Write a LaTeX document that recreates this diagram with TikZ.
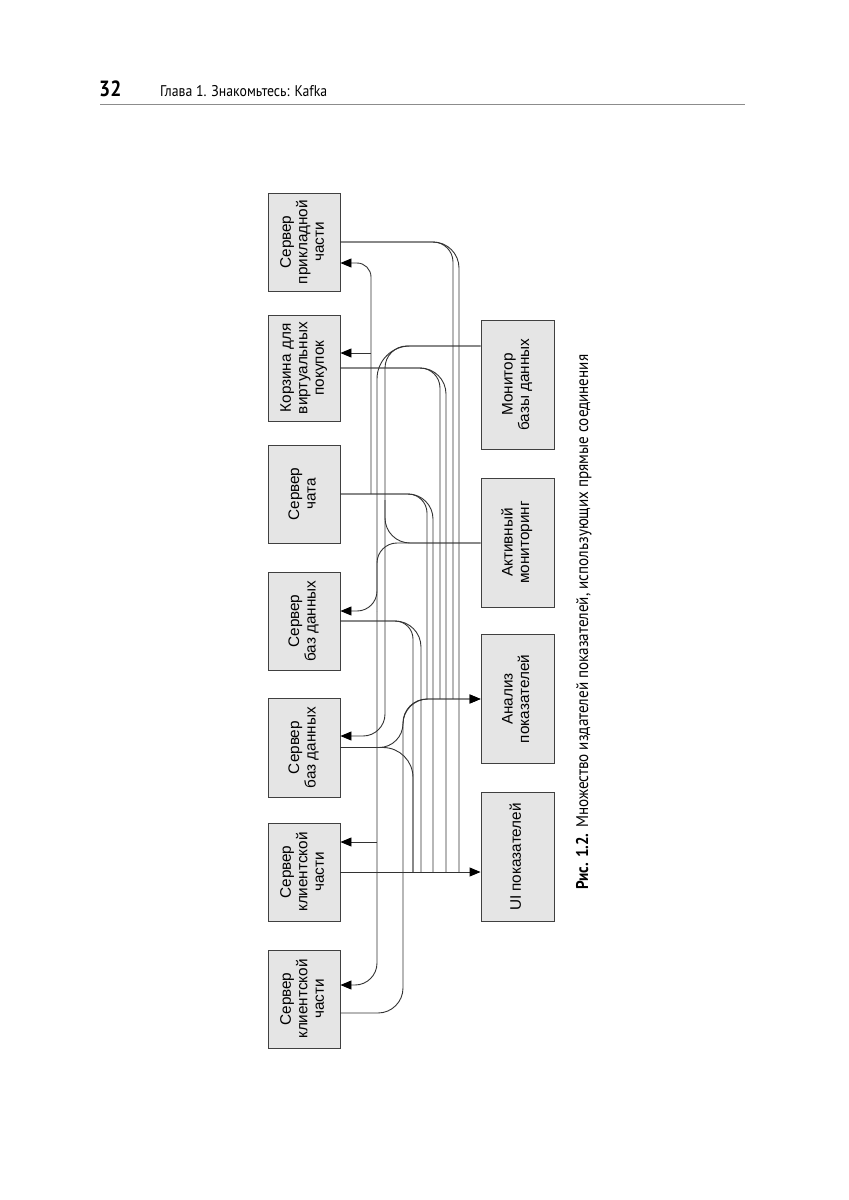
\documentclass[tikz,border=0pt]{standalone}
\usepackage{fontspec}
\setmainfont{Liberation Sans}
\newfontfamily\capfont[FakeStretch=0.89]{PT Sans}
\usetikzlibrary{arrows.meta}
\tikzset{
  box/.style={draw=black!75, fill=black!10, line width=0.9pt, minimum width=72pt, inner sep=0pt, font=\fontsize{15.3}{16.5}\selectfont},
  rbox/.style={box, minimum width=73pt, minimum height=129pt},
  wire/.style={draw=black!80, line width=0.9pt},
  arr/.style={wire, -{Triangle[length=11pt,width=9pt,color=black]}},
}
\newcommand{\bt}[1]{\rotatebox{90}{\begin{tabular}{@{}c@{}}#1\end{tabular}}}
\begin{document}
\begin{tikzpicture}[x=1pt,y=-1pt]
\fill[white] (0,0) rectangle (849,1200);
\useasboundingbox (0,0) rectangle (849,1200);

% header
\node[font=\capfont\bfseries\fontsize{22}{24}\selectfont, anchor=base west, inner sep=0pt] (pg) at (99,96) {32};
\node[font=\capfont\fontsize{15.5}{18}\selectfont, anchor=base west, inner sep=0pt] (hd) at (160,96) {Глава 1. Знакомьтесь: Kafka};
\draw[black!45, line width=1.4pt] (100,104.5) -- (745,104.5);

% left boxes
\node[box, minimum height=98pt]  (b1) at (304,242)   {\bt{Сервер\\прикладной\\части}};
\node[box, minimum height=106pt] (b2) at (304,368)   {\bt{Корзина для\\виртуальных\\покупок}};
\node[box, minimum height=98pt]  (b3) at (304,494)   {\bt{Сервер\\чата}};
\node[box, minimum height=98pt]  (b4) at (304,621)   {\bt{Сервер\\баз данных}};
\node[box, minimum height=99pt]  (b5) at (304,747.5) {\bt{Сервер\\баз данных}};
\node[box, minimum height=98pt]  (b6) at (304,872)   {\bt{Сервер\\клиентской\\части}};
\node[box, minimum height=98pt]  (b7) at (304,999)   {\bt{Сервер\\клиентской\\части}};

% right boxes
\node[rbox] (mon) at (517.5,384.5) {\bt{Монитор\\базы данных}};
\node[rbox] (am)  at (517.5,542.5) {\bt{Активный\\мониторинг}};
\node[rbox] (an)  at (517.5,699)   {\bt{Анализ\\показателей}};
\node[rbox] (ui)  at (517.5,857)   {\bt{UI показателей}};

% caption
\node[rotate=90, anchor=base west, inner sep=0pt, font=\capfont\fontsize{17}{19}\selectfont] (cap) at (588,890)
  {\textbf{Рис. 1.2.} Множество издателей показателей, использующих прямые соединения};

% connection points
\coordinate (b1in) at (b1.east |- 0,263);
\coordinate (b2in) at (b2.east |- 0,353);
\coordinate (b4in) at (b4.east |- 0,611);
\coordinate (b5in) at (b5.east |- 0,736);
\coordinate (b6in) at (b6.east |- 0,842);
\coordinate (b7in) at (b7.east |- 0,985);
\coordinate (b7out) at (b7.east |- 0,1013);
\coordinate (monin) at (mon.west |- 0,346);
\coordinate (amin) at (am.west |- 0,543);
\coordinate (anin) at (an.west);
\coordinate (uiin) at (ui.west |- b6.east);
\coordinate (j3) at (b3.east -| 371,0);
\coordinate (j2) at (b2in -| 371,0);
\coordinate (j6) at (b6in -| 377,0);

% sources on the left to the analysis and UI boxes
\draw[wire, rounded corners=26pt] (b1.east) -- (b1.east -| 459,0) -- (uiin -| 459,0);
\draw[wire, rounded corners=20pt] (b1.east) -- (b1.east -| 453,0) -- (anin -| 453,0);
\draw[wire, rounded corners=26pt] (b2.east) -- (b2.east -| 446,0) -- (uiin -| 446,0);
\draw[wire, rounded corners=20pt] (b2.east) -- (b2.east -| 440,0) -- (anin -| 440,0);
\draw[wire, rounded corners=25pt] (b3.east) -- (b3.east -| 433,0) -- (uiin -| 433,0);
\draw[wire, rounded corners=19pt] (b3.east) -- (b3.east -| 427,0) -- (anin -| 427,0);
\draw[wire, rounded corners=26pt] (b4.east) -- (b4.east -| 421,0) -- (uiin -| 421,0);
\draw[wire, rounded corners=18pt] (b4.east) -- (b4.east -| 413,0) -- (uiin -| 413,0);
\draw[wire, rounded corners=30pt] (b5.east) -- (b5.east -| 413,0) -- (uiin -| 413,0);
\draw[arr, rounded corners=24pt] (b5.east) -- (b5.east -| 403,0) -- (anin -| 403,0) -- (anin);
\draw[arr, rounded corners=25pt] (b7out) -- (b7out -| 403,0) -- (anin -| 403,0) -- (anin);
\draw[arr] (b6.east) -- (uiin);

% monitors to the servers
\draw[wire, rounded corners=33pt] (monin) -- (monin -| 377,0) -- (b4in -| 377,0);
\draw[arr, rounded corners=22pt] (b4in -| 377,0) -- (b7in -| 377,0) -- (b7in);
\draw[arr, rounded corners=22pt] (monin) -- (monin -| 385,0) -- (b5in -| 385,0) -- (b5in);
\draw[wire, rounded corners=25pt] (amin) -- (amin -| 385,0) -- (385,500);
\draw[arr, rounded corners=20pt] (amin) -- (amin -| 377,0) -- (b4in -| 377,0) -- (b4in);
\draw[arr] (j6) -- (b6in);
\draw[arr, rounded corners=14pt] (j3) -- (b1in -| 371,0) -- (b1in);
\draw[arr] (j2) -- (b2in);
\end{tikzpicture}
\end{document}
